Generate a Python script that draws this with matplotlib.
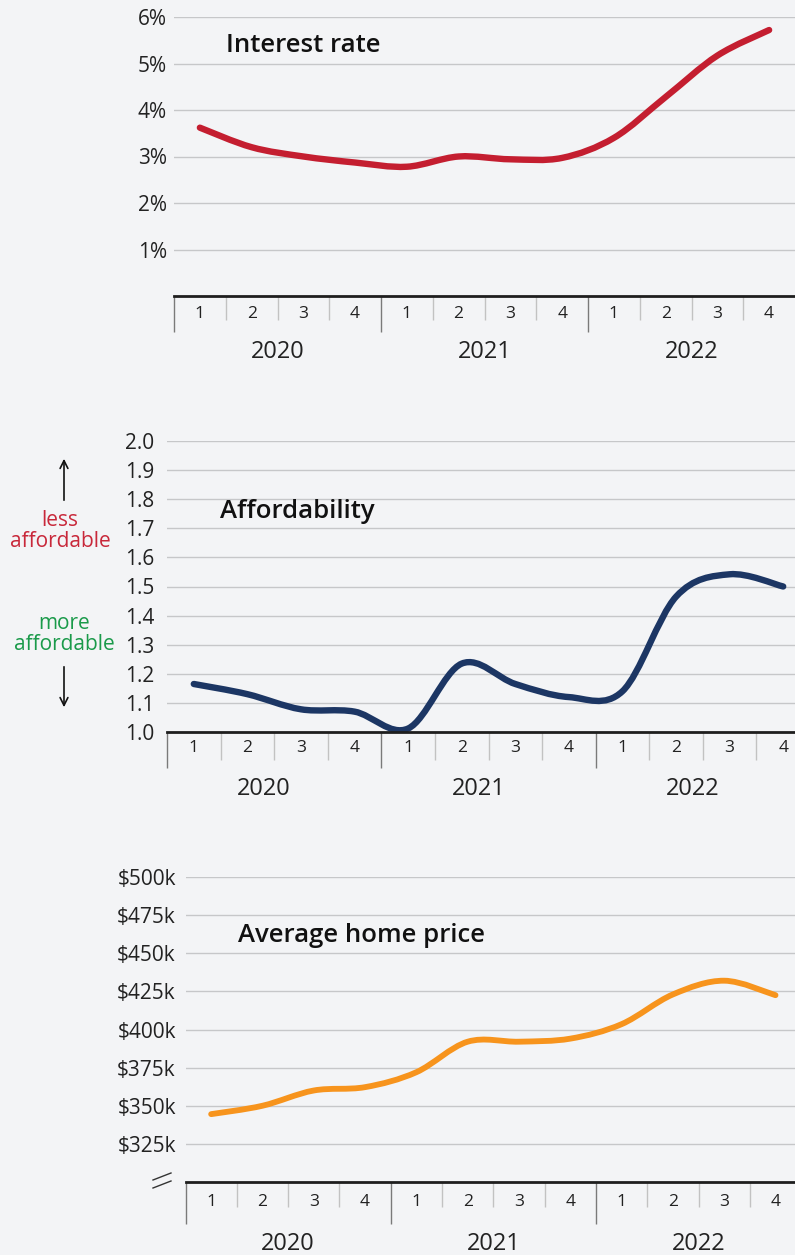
import numpy as np
import matplotlib
matplotlib.use("Agg")
import matplotlib.pyplot as plt
from matplotlib.path import Path
from matplotlib.patches import PathPatch, FancyArrowPatch
from matplotlib.lines import Line2D

plt.rcParams['font.family'] = ['Open Sans', 'DejaVu Sans']

# data
quarters = ["1", "2", "3", "4"] * 3
years = ["2020", "2021", "2022"]
interest_rate = [3.62, 3.2, 3.0, 2.87, 2.78, 3.0, 2.94, 2.97, 3.4, 4.28, 5.17, 5.72]
affordability = [1.165, 1.13, 1.078, 1.07, 1.012, 1.235, 1.165, 1.12, 1.14, 1.465, 1.542, 1.50]
home_price = [344.5, 350, 360, 362.2, 372, 392, 392, 394, 403.5, 423, 432, 422.5]
rate_ticks = [1, 2, 3, 4, 5, 6]
rate_labels = ["1%", "2%", "3%", "4%", "5%", "6%"]
aff_ticks = [1.0, 1.1, 1.2, 1.3, 1.4, 1.5, 1.6, 1.7, 1.8, 1.9, 2.0]
price_ticks = [325, 350, 375, 400, 425, 450, 475, 500]
price_labels = ["$%dk" % v for v in price_ticks]

W, H = 795, 1255
BG = '#f3f4f6'
TXT = '#222222'
fig = plt.figure(figsize=(W / 100, H / 100), dpi=100, facecolor=BG)


def make_axes(left, right, top, bottom):
    ax = fig.add_axes([left / W, 1 - bottom / H, (right - left) / W, (bottom - top) / H])
    ax.set_facecolor('none')
    for s in ['top', 'right', 'left']:
        ax.spines[s].set_visible(False)
    ax.spines['bottom'].set_color('#1e1e1e')
    ax.spines['bottom'].set_linewidth(2.0)
    ax.spines['bottom'].set_zorder(5)
    ax.yaxis.grid(True, color='#c6c7c9', lw=1.0)
    ax.set_axisbelow(True)
    ax.set_xticks([])
    return ax


def smooth_line(ax, vals, color, lw):
    # catmull-rom through the points, drawn as bezier curves
    pts = np.column_stack([np.arange(len(vals)), vals]).astype(float)
    ext = np.vstack([pts[0], pts, pts[-1]])
    verts = [pts[0]]
    codes = [Path.MOVETO]
    for i in range(len(pts) - 1):
        p0, p1, p2, p3 = ext[i], ext[i + 1], ext[i + 2], ext[i + 3]
        verts += [p1 + (p2 - p0) / 6, p2 - (p3 - p1) / 6, p2]
        codes += [Path.CURVE4] * 3
    patch = PathPatch(Path(verts, codes), fill=False, edgecolor=color, lw=lw,
                      capstyle='round', joinstyle='round', zorder=4)
    ax.add_patch(patch)


def x_axis(ax, height_px, q_len, y_len, q_off, y_off, year_shift=0):
    tr = ax.get_xaxis_transform()
    qsep = [0.5, 1.5, 2.5, 4.5, 5.5, 6.5, 8.5, 9.5, 10.5]
    ysep = [-0.5, 3.5, 7.5]
    ax.vlines(qsep, -q_len / height_px, 0, transform=tr, colors='#c2c2c2', lw=1.0, clip_on=False)
    ax.vlines(ysep, -y_len / height_px, 0, transform=tr, colors='#7a7a7a', lw=1.0, clip_on=False)
    for i, q in enumerate(quarters):
        ax.annotate(q, xy=(i, 0), xycoords=tr, xytext=(0, -q_off * 0.72), textcoords='offset points',
                    ha='center', va='center', fontsize=12.5, color=TXT, annotation_clip=False)
    for j, yr in enumerate(years):
        ax.annotate(yr, xy=(4 * j + 1.5, 0), xycoords=tr, xytext=(year_shift * 0.72, -y_off * 0.72),
                    textcoords='offset points', ha='center', va='center', fontsize=17,
                    color=TXT, annotation_clip=False)


# interest rate
ax1 = make_axes(174, 795, 17, 296)
ax1.set_xlim(-0.5, 11.5)
ax1.set_ylim(0, 6)
ax1.set_yticks(rate_ticks, rate_labels)
ax1.tick_params(axis='y', length=0, pad=5, labelsize=15, labelcolor=TXT)
smooth_line(ax1, interest_rate, '#c41e30', 4.6)
x_axis(ax1, 279, 24, 36, 18, 56)
fig.text(226 / W, 1 - 45 / H, "Interest rate", fontsize=18.5, fontweight='semibold', va='center', color='#111111')

# affordability
ax2 = make_axes(167, 795, 441, 732)
ax2.set_xlim(-0.5, 11.22)
ax2.set_ylim(1.0, 2.0)
ax2.set_yticks(aff_ticks, ["%.1f" % v for v in aff_ticks])
ax2.tick_params(axis='y', length=0, pad=9, labelsize=15, labelcolor=TXT)
smooth_line(ax2, affordability, '#1c3664', 4.6)
x_axis(ax2, 291, 28, 36, 16, 57, year_shift=-10)
fig.text(220 / W, 1 - 512 / H, "Affordability", fontsize=18.5, fontweight='semibold', va='center', color='#111111')

fig.text(60 / W, 1 - 531 / H, "less\naffordable", fontsize=15, color='#c8283a', ha='center', va='center',
         linespacing=1.05)
fig.text(64 / W, 1 - 634 / H, "more\naffordable", fontsize=15, color='#1a9a4a', ha='center', va='center',
         linespacing=1.05)
fig.add_artist(FancyArrowPatch((64 / W, 1 - 503 / H), (64 / W, 1 - 456 / H), transform=fig.transFigure,
                               arrowstyle='->', mutation_scale=14, lw=1.2, color='#111111'))
fig.add_artist(FancyArrowPatch((64 / W, 1 - 664 / H), (64 / W, 1 - 710 / H), transform=fig.transFigure,
                               arrowstyle='->', mutation_scale=14, lw=1.2, color='#111111'))

# average home price
ax3 = make_axes(185.5, 795, 877, 1182)
ax3.set_xlim(-0.5, 11.38)
ax3.set_ylim(300, 500)
ax3.set_yticks(price_ticks, price_labels)
ax3.tick_params(axis='y', length=0, pad=7, labelsize=15, labelcolor=TXT)
smooth_line(ax3, home_price, '#f7941d', 4.2)
x_axis(ax3, 305, 25, 42, 20, 62)
fig.text(238 / W, 1 - 935 / H, "Average home price", fontsize=18.5, fontweight='semibold', va='center',
         color='#111111')

# axis break mark
for y0, y1 in [(1180, 1173), (1188, 1181)]:
    fig.add_artist(Line2D([153 / W, 171 / W], [1 - y0 / H, 1 - y1 / H], transform=fig.transFigure,
                          color='#333333', lw=1.0))

fig.savefig("out.png", dpi=100, facecolor=BG)
